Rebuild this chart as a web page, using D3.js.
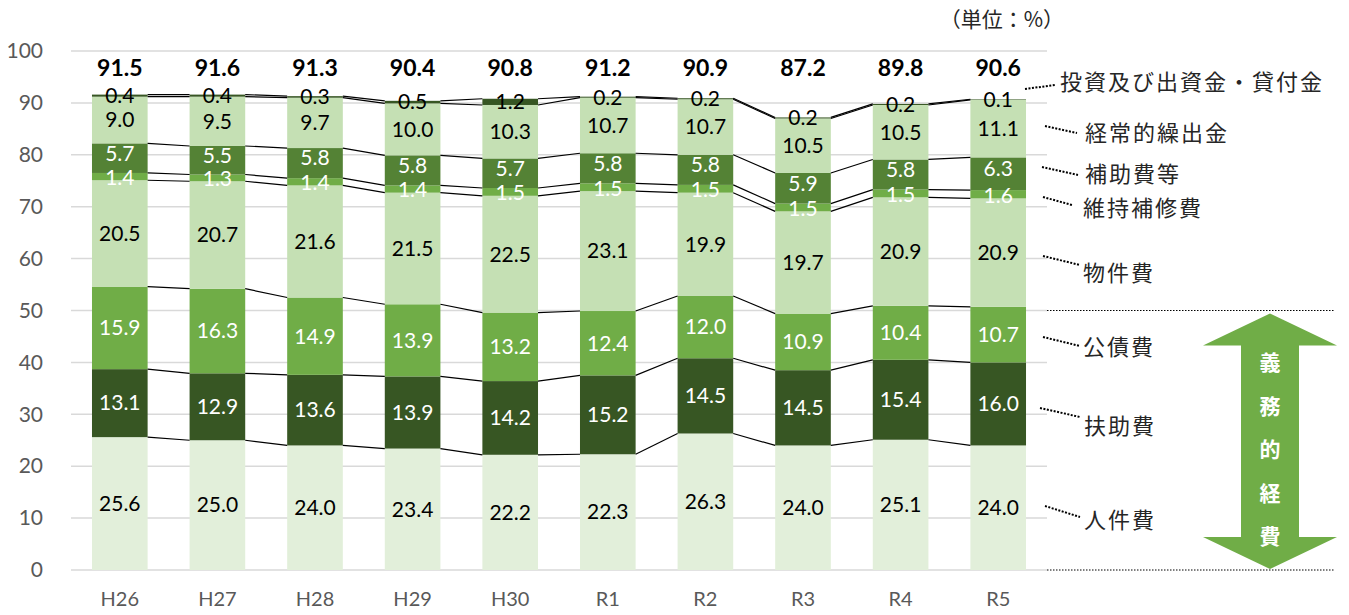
<!DOCTYPE html>
<html><head><meta charset="utf-8">
<script src="https://cdn.jsdelivr.net/npm/d3@7"></script>
<style>
html,body{margin:0;padding:0;background:#fff;}
svg{display:block;}
</style></head>
<body>
<svg id="chart" width="1349" height="615"></svg>
<script>
const categories = ["H26","H27","H28","H29","H30","R1","R2","R3","R4","R5"];
const seriesNames = ["人件費","扶助費","公債費","物件費","維持補修費","補助費等","経常的繰出金","投資及び出資金・貸付金"];
const jinkenhi   = [25.6,25.0,24.0,23.4,22.2,22.3,26.3,24.0,25.1,24.0];
const fujohi     = [13.1,12.9,13.6,13.9,14.2,15.2,14.5,14.5,15.4,16.0];
const kousaihi   = [15.9,16.3,14.9,13.9,13.2,12.4,12.0,10.9,10.4,10.7];
const bukkenhi   = [20.5,20.7,21.6,21.5,22.5,23.1,19.9,19.7,20.9,20.9];
const ijihoshu   = [1.4,1.3,1.4,1.4,1.5,1.5,1.5,1.5,1.5,1.6];
const hojohi     = [5.7,5.5,5.8,5.8,5.7,5.8,5.8,5.9,5.8,6.3];
const kuridashi  = [9.0,9.5,9.7,10.0,10.3,10.7,10.7,10.5,10.5,11.1];
const toushi     = [0.4,0.4,0.3,0.5,1.2,0.2,0.2,0.2,0.2,0.1];
const totals     = [91.5,91.6,91.3,90.4,90.8,91.2,90.9,87.2,89.8,90.6];
const yTicks     = [0,10,20,30,40,50,60,70,80,90,100];
const unitLabel  = "（単位：%）";
const arrowLabel = ["義","務","的","経","費"];

const seriesValues = [jinkenhi,fujohi,kousaihi,bukkenhi,ijihoshu,hojohi,kuridashi,toushi];
const colors = ["#E2EFDA","#375623","#70AD47","#C5E0B4","#70AD47","#548235","#C5E0B4","#375623"];
const labelColors = ["#000","#fff","#fff","#000","#fff","#fff","#000","#000"];
const labelNudge = [0,0,0,0,1,-5,0,0];

const svg = d3.select("#chart");
const numFont = "Lato, 'Noto Sans', sans-serif";
const jpFont = "'Noto Sans CJK JP', 'Noto Sans', sans-serif";

const plotL = 71, plotR = 1047, y0 = 570, y100 = 51;
const x = d3.scaleBand().domain(categories).range([plotL, plotR]).paddingInner(0.43).paddingOuter(0.215);
const y = d3.scaleLinear().domain([0,100]).range([y0, y100]);
const bw = x.bandwidth();

// gridlines
svg.append("g").selectAll("line").data(yTicks).join("line")
  .attr("x1", plotL).attr("x2", plotR)
  .attr("y1", d => y(d)).attr("y2", d => y(d))
  .attr("stroke", "#D9D9D9").attr("stroke-width", 1.5);

// y axis labels
const yAxis = d3.axisLeft(y).tickValues(yTicks).tickSize(0).tickPadding(0);
const yg = svg.append("g").attr("transform", `translate(43,0)`).call(yAxis);
yg.select(".domain").remove();
yg.selectAll("text").attr("font-family", numFont).attr("font-size", 21).attr("fill", "#595959");

// x axis labels
const xAxis = d3.axisBottom(x).tickSize(0).tickPadding(0);
const xg = svg.append("g").attr("transform", `translate(0,592)`).call(xAxis);
xg.select(".domain").remove();
xg.selectAll("text").attr("font-family", numFont).attr("font-size", 20).attr("fill", "#595959");

// stack data
const rows = categories.map((c,i) => {
  const o = {cat: c};
  seriesNames.forEach((s,k) => o[s] = seriesValues[k][i]);
  return o;
});
const stacked = d3.stack().keys(seriesNames)(rows);

// bars
stacked.forEach((layer, k) => {
  svg.append("g").selectAll("rect").data(layer).join("rect")
    .attr("x", d => x(d.data.cat))
    .attr("width", bw)
    .attr("y", d => y(d[1]))
    .attr("height", d => y(d[0]) - y(d[1]))
    .attr("fill", colors[k]);
});

// series lines
stacked.forEach((layer, k) => {
  const segs = d3.pairs(layer);
  svg.append("g").selectAll("line").data(segs).join("line")
    .attr("x1", p => x(p[0].data.cat) + bw)
    .attr("y1", p => y(p[0][1]))
    .attr("x2", p => x(p[1].data.cat))
    .attr("y2", p => y(p[1][1]))
    .attr("stroke", "#000").attr("stroke-width", 1.2);
});

// value labels
stacked.forEach((layer, k) => {
  svg.append("g").selectAll("text").data(layer).join("text")
    .attr("x", d => x(d.data.cat) + bw/2)
    .attr("y", d => y((d[0]+d[1])/2) + labelNudge[k])
    .attr("dy", "0.35em")
    .attr("text-anchor", "middle")
    .attr("font-family", numFont).attr("font-size", 21)
    .attr("fill", labelColors[k])
    .text(d => (d[1]-d[0]).toFixed(1));
});

// totals
svg.append("g").selectAll("text").data(totals).join("text")
  .attr("x", (d,i) => x(categories[i]) + bw/2)
  .attr("y", y(100) + 17)
  .attr("dy", "0.35em")
  .attr("text-anchor", "middle")
  .attr("font-family", numFont).attr("font-size", 23).attr("font-weight", "bold")
  .attr("fill", "#000")
  .text(d => d.toFixed(1));

// unit label
svg.append("text").attr("x", 1064).attr("y", 20).attr("dy", "0.35em")
  .attr("text-anchor", "end").attr("font-family", jpFont).attr("font-size", 21)
  .attr("fill", "#262626").text(unitLabel);

// legend labels with dotted leaders (order top to bottom)
const legendLayout = [
  {k:7, tx:1060, ty:82, lx1:1025, ly1:89, lx2:1055, ly2:85},
  {k:6, tx:1085, ty:133, lx1:1045, ly1:126, lx2:1077, ly2:133},
  {k:5, tx:1085, ty:174, lx1:1042, ly1:167, lx2:1078, ly2:175},
  {k:4, tx:1083, ty:208, lx1:1043, ly1:197, lx2:1072, ly2:205},
  {k:3, tx:1083, ty:273, lx1:1043, ly1:256, lx2:1080, ly2:265},
  {k:2, tx:1083, ty:347, lx1:1043, ly1:337, lx2:1080, ly2:346},
  {k:1, tx:1084, ty:426, lx1:1040, ly1:408, lx2:1080, ly2:417},
  {k:0, tx:1084, ty:520, lx1:1045, ly1:506, lx2:1080, ly2:517}
];
const lg = svg.append("g");
legendLayout.forEach(L => {
  lg.append("line").attr("x1", L.lx1).attr("y1", L.ly1).attr("x2", L.lx2).attr("y2", L.ly2)
    .attr("stroke", "#000").attr("stroke-width", 2).attr("stroke-dasharray", "2,1.5");
  lg.append("text").attr("x", L.tx).attr("y", L.ty).attr("dy", "0.35em")
    .attr("font-family", jpFont).attr("font-size", 22).attr("letter-spacing", 2)
    .attr("fill", "#262626").text(seriesNames[L.k]);
});

// dotted horizontal lines at 50 and 0
[50, 0].forEach(v => {
  svg.append("line").attr("x1", plotR).attr("x2", 1335)
    .attr("y1", y(v)).attr("y2", y(v))
    .attr("stroke", "#000").attr("stroke-width", 1).attr("stroke-dasharray", "1.5,1.5");
});

// double arrow
const ax = 1270, arrTop = y(50) + 3, arrBot = y(0) - 1;
const headH = 32, headHalf = 67, shaftHalf = 29;
const pts = [
  [ax, arrTop], [ax+headHalf, arrTop+headH], [ax+shaftHalf, arrTop+headH],
  [ax+shaftHalf, arrBot-headH], [ax+headHalf, arrBot-headH], [ax, arrBot],
  [ax-headHalf, arrBot-headH], [ax-shaftHalf, arrBot-headH], [ax-shaftHalf, arrTop+headH],
  [ax-headHalf, arrTop+headH]
];
svg.append("polygon").attr("points", pts.map(p => p.join(",")).join(" ")).attr("fill", "#70AD47");
svg.append("g").selectAll("text").data(arrowLabel).join("text")
  .attr("x", ax).attr("y", (d,i) => 363 + i*43.5).attr("dy", "0.35em")
  .attr("text-anchor", "middle").attr("font-family", jpFont).attr("font-size", 21)
  .attr("font-weight", "bold").attr("fill", "#fff").text(d => d);
</script>
</body></html>
